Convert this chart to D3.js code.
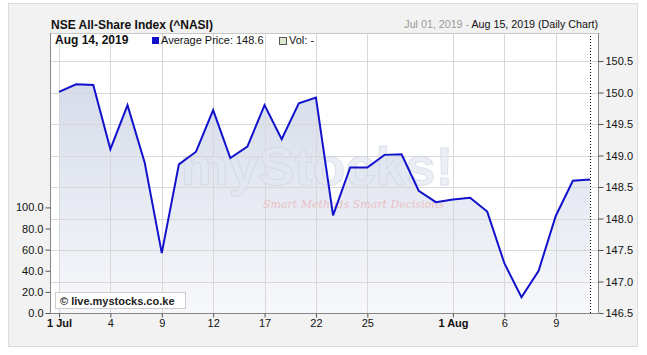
<!DOCTYPE html>
<html><head><meta charset="utf-8">
<script src="https://cdn.jsdelivr.net/npm/d3@7"></script>
<style>
html,body{margin:0;padding:0;background:#fff;}
svg{display:block;font-family:Arial,"Liberation Sans",sans-serif;}
</style></head>
<body><svg id="c" width="647" height="355"></svg>
<script>
const dates = ["Jul 01","Jul 02","Jul 03","Jul 04","Jul 05","Jul 08","Jul 09","Jul 10","Jul 11","Jul 12",
  "Jul 15","Jul 16","Jul 17","Jul 18","Jul 19","Jul 22","Jul 23","Jul 24","Jul 25","Jul 26",
  "Jul 29","Jul 30","Jul 31","Aug 01","Aug 02","Aug 05","Aug 06","Aug 07","Aug 08","Aug 09",
  "Aug 13","Aug 14"];
const prices = [150.01,150.13,150.12,149.10,149.80,148.89,147.45,148.86,149.06,149.72,
  148.96,149.14,149.80,149.26,149.83,149.92,148.05,148.81,148.81,149.01,
  149.02,148.44,148.26,148.30,148.33,148.11,147.29,146.75,147.17,148.04,
  148.60,148.62];
const tickIdx = [0,3,6,9,12,15,18,23,26,29];
const tickLabels = ["1 Jul","4","9","12","17","22","25","1 Aug","6","9"];
const boldTicks = ["1 Jul","1 Aug"];
const priceTicks = [146.5,147.0,147.5,148.0,148.5,149.0,149.5,150.0,150.5];
const volTicks = [0,20,40,60,80,100];

const svg = d3.select("#c");
const L=50,R=598,T=33,B=313;

svg.append("rect").attr("x",8.5).attr("y",3.5).attr("width",629).attr("height",343)
  .attr("fill","#f2f2f2").attr("stroke","#dcdcdc");

const defs = svg.append("defs");
const g1 = defs.append("linearGradient").attr("id","ag").attr("x1",0).attr("y1",0).attr("x2",0).attr("y2",1);
g1.append("stop").attr("offset","0%").attr("stop-color","#d6dcea");
g1.append("stop").attr("offset","100%").attr("stop-color","#f7f8fb");

svg.append("rect").attr("x",L).attr("y",T).attr("width",R-L).attr("height",B-T).attr("fill","#fff");

const x = d3.scaleLinear().domain([0,31]).range([59,590]);
const y = d3.scaleLinear().domain([146.5,146.5+(B-T)/63]).range([B,T]);
const yv = d3.scaleLinear().domain([0,100]).range([B,207.4]);

// area
const area = d3.area().x((d,i)=>x(i)).y0(B).y1(d=>y(d));
svg.append("path").datum(prices).attr("d",area).attr("fill","url(#ag)");

// grid
const grid = svg.append("g").attr("stroke","#d8d8d8").attr("stroke-width",1);
priceTicks.slice(1).forEach(v=>grid.append("line").attr("x1",L).attr("x2",R)
  .attr("y1",Math.round(y(v))+0.5).attr("y2",Math.round(y(v))+0.5));
tickIdx.forEach(i=>grid.append("line").attr("y1",T).attr("y2",B)
  .attr("x1",Math.round(x(i))+0.5).attr("x2",Math.round(x(i))+0.5));

// watermark
svg.append("text").attr("x",317).attr("y",185).attr("text-anchor","middle")
  .attr("font-size",54).attr("font-weight","bold").attr("fill","#e3e7f0").attr("opacity",0.7)
  .attr("stroke","#cfd5e4").attr("stroke-width",1).text("myStocks!");
svg.append("text").attr("x",263).attr("y",208).attr("text-anchor","start")
  .attr("font-size",11).attr("font-style","italic").attr("fill","#eab8b8").attr("opacity",0.8)
  .attr("font-family","'DejaVu Serif',serif").text("Smart Methods Smart Decisions");

// line
const line = d3.line().x((d,i)=>x(i)).y(d=>y(d));
svg.append("path").datum(prices).attr("d",line).attr("fill","none")
  .attr("stroke","#1212cc").attr("stroke-width",2).attr("stroke-linejoin","miter");

// dotted last line
svg.append("line").attr("x1",Math.round(x(31))+0.5).attr("x2",Math.round(x(31))+0.5)
  .attr("y1",T).attr("y2",B).attr("stroke","#000").attr("stroke-dasharray","1,2");

// frame
svg.append("line").attr("x1",L).attr("x2",R).attr("y1",T+0.5).attr("y2",T+0.5).attr("stroke","#c8c8c8");

// axes
const axR = svg.append("g").attr("transform",`translate(${R+0.5},0)`)
  .call(d3.axisRight(y).tickValues(priceTicks).tickFormat(d3.format(".1f")).tickSize(5).tickPadding(2));
const axL = svg.append("g").attr("transform",`translate(${L+0.5},0)`)
  .call(d3.axisLeft(yv).tickValues(volTicks).tickFormat(d3.format(".1f")).tickSize(5).tickPadding(2));
const axB = svg.append("g").attr("transform",`translate(0,${B+0.5})`)
  .call(d3.axisBottom(x).tickValues(tickIdx).tickFormat((d,i)=>tickLabels[i]).tickSize(4).tickPadding(2));
[axR,axL,axB].forEach(a=>{
  a.selectAll("path.domain").attr("stroke","#888");
  a.selectAll(".tick line").attr("stroke","#555");
  a.selectAll("text").attr("font-size",11).attr("fill","#111").attr("font-family","Arial,'Liberation Sans',sans-serif");
});
axR.select("path.domain").attr("d",`M0,${T}V${B}`);
axL.select("path.domain").attr("d",`M0,${T}V${B}`);
axB.select("path.domain").attr("d",`M${L},0H${R}`);
axB.selectAll("text").each(function(d,i){
  if(boldTicks.includes(tickLabels[i])) d3.select(this).attr("font-weight","bold");
});

// copyright box
svg.append("rect").attr("x",55.5).attr("y",292.5).attr("width",130).attr("height",16)
  .attr("fill","#fff").attr("stroke","#ccc");
svg.append("text").attr("x",60).attr("y",304.5).attr("font-size",11).attr("font-weight","bold")
  .attr("fill","#222").text("© live.mystocks.co.ke");

// title
svg.append("text").attr("x",51).attr("y",28.5).attr("font-size",12).attr("font-weight","bold")
  .attr("fill","#111").text("NSE All-Share Index (^NASI)");
const rt = svg.append("text").attr("x",598).attr("y",27.5).attr("text-anchor","end").attr("font-size",10.7);
rt.append("tspan").attr("fill","#999").text("Jul 01, 2019 - ");
rt.append("tspan").attr("fill","#111").text("Aug 15, 2019 (Daily Chart)");

// legend
const last = prices.length-1;
svg.append("text").attr("x",55).attr("y",44).attr("font-size",12).attr("font-weight","bold")
  .attr("fill","#111").text(dates[last] + ", 2019");
svg.append("rect").attr("x",152).attr("y",37).attr("width",7).attr("height",7).attr("fill","#1212cc");
svg.append("text").attr("x",161).attr("y",44).attr("font-size",11).attr("fill","#111")
  .text("Average Price: " + prices[last].toFixed(1));
svg.append("rect").attr("x",279.5).attr("y",37.5).attr("width",7).attr("height",7)
  .attr("fill","#dde8d0").attr("stroke","#555");
svg.append("text").attr("x",289).attr("y",44).attr("font-size",11).attr("fill","#111").text("Vol: -");
</script></body></html>
